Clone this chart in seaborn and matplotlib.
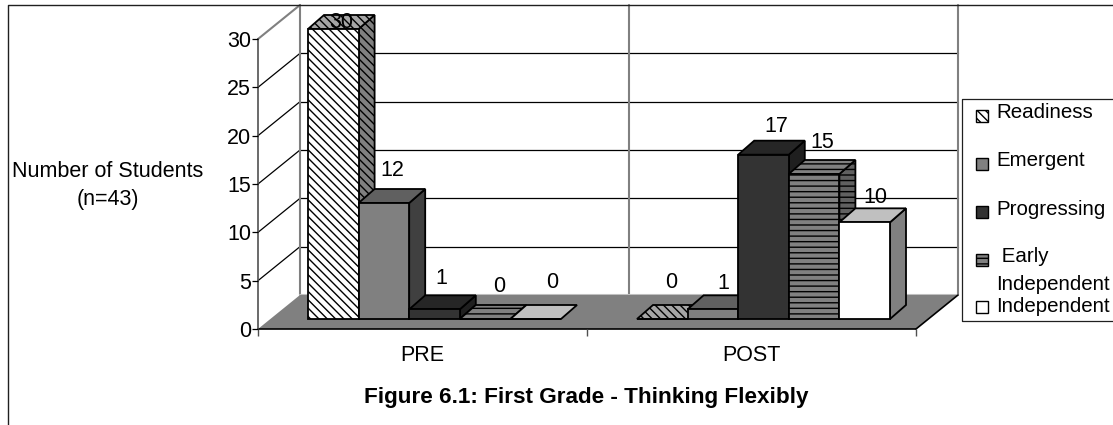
# %% [Célula 1] Importações
import matplotlib
matplotlib.use("Agg")
import matplotlib.pyplot as plt
from matplotlib.lines import Line2D
from matplotlib.patches import Polygon, Rectangle
from matplotlib.transforms import Affine2D, IdentityTransform
import pandas as pd
import seaborn as sns

# %% [Célula 2] Dados
momentos = ["PRE", "POST"]
niveis = ["Readiness", "Emergent", "Progressing", "Early Independent", "Independent"]
readiness = [30, 0]
emergent = [12, 1]
progressing = [1, 17]
early_independent = [0, 15]
independent = [0, 10]
marcas_y = [0, 5, 10, 15, 20, 25, 30]

# %% [Célula 3] Estilo de cada série (frente, topo, lateral, hachura)
cor_frente = ["#ffffff", "#808080", "#333333", "#808080", "#ffffff"]
cor_topo = ["#a6a6a6", "#606060", "#262626", "#808080", "#c0c0c0"]
cor_lado = ["#808080", "#404040", "#1f1f1f", "#606060", "#808080"]
hachuras = ["\\\\\\\\", None, None, "---", None]

# Deslocamento (em pixels) de cada rótulo em relação ao topo frontal da barra
desloc_rotulos = [
    [(8, 6), (9, 37)],
    [(8, 33), (10, 26)],
    [(7, 31), (13, 28)],
    [(14, 32), (8, 32)],
    [(16, 37), (11, 25)],
]

LARGURA, ALTURA = 1113, 425
FONTE = 15.5
FONTE_LEGENDA = 14.8
CINZA = "#808080"


def px(x, y):
    """Converte coordenadas de imagem (y para baixo) em coordenadas de tela."""
    return x, ALTURA - y


# %% [Célula 4] Figura e eixos
sns.set_style("white")
plt.rcParams["font.family"] = ["Liberation Sans", "DejaVu Sans"]
plt.rcParams["hatch.linewidth"] = 1.0
plt.rcParams["text.color"] = "black"

fig = plt.figure(figsize=(LARGURA / 100, ALTURA / 100), dpi=100)
ax = fig.add_axes([258 / LARGURA, 1 - 329 / ALTURA, 658 / LARGURA, 290 / ALTURA])
tela = IdentityTransform()

tabela = pd.DataFrame({
    "momento": momentos * len(niveis),
    "nivel": [n for n in niveis for _ in momentos],
    "alunos": readiness + emergent + progressing + early_independent + independent,
})

sns.barplot(
    data=tabela, x="momento", y="alunos", hue="nivel", order=momentos, hue_order=niveis,
    palette=cor_frente, saturation=1, width=0.769, edgecolor="black", linewidth=1.3,
    legend=False, ax=ax,
)
ax.set_xlim(-0.5, 1.5)
ax.set_ylim(0, 30)
ax.set_xlabel("")
ax.set_ylabel("")
fig.canvas.draw()

# %% [Célula 5] Paredes e piso em perspectiva
x0, y0 = ax.transData.transform((-0.5, 0))
x1, _ = ax.transData.transform((1.5, 0))
prof_x, prof_y = 42, 34

ax.add_patch(Polygon(
    [(x0, y0), (x1, y0), (x1 + prof_x, y0 + prof_y), (x0 + prof_x, y0 + prof_y)],
    closed=True, facecolor=CINZA, edgecolor="none", transform=tela, clip_on=False, zorder=1,
))
ax.add_line(Line2D([x1, x1 + prof_x], [y0, y0 + prof_y], color="black", lw=1.2,
                   transform=tela, clip_on=False, zorder=2))
ax.add_line(Line2D([x0, x1], [y0, y0], color="black", lw=1.2,
                   transform=tela, clip_on=False, zorder=2))
ax.add_line(Line2D([x0 + prof_x, x1 + prof_x], [y0 + prof_y, y0 + prof_y], color="#c0c0c0",
                   lw=1.5, transform=tela, clip_on=False, zorder=0.9))

for marca in marcas_y[1:]:
    _, y_tela = ax.transData.transform((0, marca))
    cor = CINZA if marca == marcas_y[-1] else "black"
    larg = 1.5 if marca == marcas_y[-1] else 0.9
    ax.add_line(Line2D([x0, x0 + prof_x], [y_tela, y_tela + prof_y], color=cor, lw=larg,
                       transform=tela, clip_on=False, zorder=0.8))
    if marca != marcas_y[-1]:
        ax.add_line(Line2D([x0 + prof_x, x1 + prof_x], [y_tela + prof_y] * 2, color="black",
                           lw=0.9, transform=tela, clip_on=False, zorder=0.8))

# Divisões verticais cinzas da parede do fundo
_, topo_parede = px(0, 5)
for pos in [-0.5, 0.5, 1.5]:
    x_tela, _ = ax.transData.transform((pos, 0))
    ax.add_line(Line2D([x_tela + prof_x] * 2, [y0 + prof_y, topo_parede], color=CINZA, lw=1.5,
                       transform=tela, clip_on=False, zorder=0.85))

# %% [Célula 6] Faces 3D das barras, desenhadas da esquerda para a direita
ajuste_x, ajuste_y = 12, 10
fundo_x, fundo_y = 16, 14
deslocamento = ax.transData + Affine2D().translate(ajuste_x, ajuste_y)

barras = []
for i_nivel, container in enumerate(ax.containers):
    for i_momento, barra in enumerate(container.patches):
        barras.append((barra.get_x(), i_nivel, i_momento, barra))
barras.sort(key=lambda item: item[0])

for ordem, (_, i_nivel, i_momento, barra) in enumerate(barras):
    base_z = 3 + ordem * 0.1
    esq, dir_ = barra.get_x(), barra.get_x() + barra.get_width()
    valor = barra.get_height()
    xa, ya = deslocamento.transform((esq, valor))
    xb, _ = deslocamento.transform((dir_, valor))
    _, yb = deslocamento.transform((esq, 0))

    barra.set_transform(deslocamento)
    barra.set_clip_on(False)
    barra.set_zorder(base_z + 0.05)
    if hachuras[i_nivel]:
        barra.set_hatch(hachuras[i_nivel])

    if valor > 0:
        ax.add_patch(Polygon(
            [(xb, ya), (xb + fundo_x, ya + fundo_y), (xb + fundo_x, yb + fundo_y), (xb, yb)],
            closed=True, facecolor=cor_lado[i_nivel], edgecolor="black", linewidth=1.3,
            hatch=hachuras[i_nivel], transform=tela, clip_on=False, zorder=base_z,
        ))
    ax.add_patch(Polygon(
        [(xa, ya), (xb, ya), (xb + fundo_x, ya + fundo_y), (xa + fundo_x, ya + fundo_y)],
        closed=True, facecolor=cor_topo[i_nivel], edgecolor="black", linewidth=1.3,
        hatch=hachuras[i_nivel], transform=tela, clip_on=False, zorder=base_z,
    ))

    dx, dy = desloc_rotulos[i_nivel][i_momento]
    ax.text((xa + xb) / 2 + dx, ya + dy, f"{valor:.0f}", fontsize=FONTE, color="black",
            ha="center", va="center", transform=tela, zorder=9)

# %% [Célula 7] Eixos, marcas e textos
sns.despine(ax=ax, top=True, right=True)
ax.spines["left"].set_color("#505050")
ax.spines["left"].set_linewidth(1.2)
ax.spines["bottom"].set_visible(False)
ax.set_yticks(marcas_y)
ax.set_xticks([0, 1])
ax.set_xticklabels(momentos)
ax.set_xticks([-0.5, 0.5, 1.5], minor=True)
ax.tick_params(axis="y", left=True, length=4, width=0.9, pad=1, labelsize=FONTE, colors="black")
ax.tick_params(axis="x", which="major", bottom=False, pad=8, labelsize=FONTE, labelcolor="black")
ax.tick_params(axis="x", which="minor", bottom=True, length=5, width=1, color="#505050")
ax.set_axisbelow(False)

fig.text(108 / LARGURA, 1 - 185.5 / ALTURA, "Number of Students\n(n=43)", fontsize=FONTE,
         ha="center", va="center", linespacing=1.45)
fig.text(586.5 / LARGURA, 1 - 398 / ALTURA, "Figure 6.1: First Grade - Thinking Flexibly",
         fontsize=16.2, fontweight="bold", ha="center", va="center")

# Moldura externa do gráfico
fig.add_artist(Line2D([8, 8, LARGURA], [0, ALTURA - 5, ALTURA - 5], color="#202020", lw=1,
                      transform=tela))

# %% [Célula 8] Legenda
fig.add_artist(Line2D([LARGURA, 962, 962, LARGURA], [ALTURA - 99, ALTURA - 99, ALTURA - 321, ALTURA - 321],
                      color="#202020", lw=0.9, transform=tela))

pos_amostra = [115.5, 163.5, 212, 260, 307]
pos_texto = [113, 161, 209, 257, 306]
rotulos_legenda = ["Readiness", "Emergent", "Progressing", " Early", "Independent"]

for i_nivel, rotulo in enumerate(rotulos_legenda):
    xq, yq = px(976, pos_amostra[i_nivel] + 6)
    fig.add_artist(Rectangle((xq, yq), 12, 12, facecolor=cor_frente[i_nivel], edgecolor="black",
                             linewidth=1, hatch=hachuras[i_nivel], transform=tela))
    xt, yt = px(996, pos_texto[i_nivel])
    fig.text(xt / LARGURA, yt / ALTURA, rotulo, fontsize=FONTE_LEGENDA, ha="left", va="center")

xt, yt = px(996, 284)
fig.text(xt / LARGURA, yt / ALTURA, "Independent", fontsize=FONTE_LEGENDA, ha="left", va="center")

plt.savefig("out.png", dpi=100)
